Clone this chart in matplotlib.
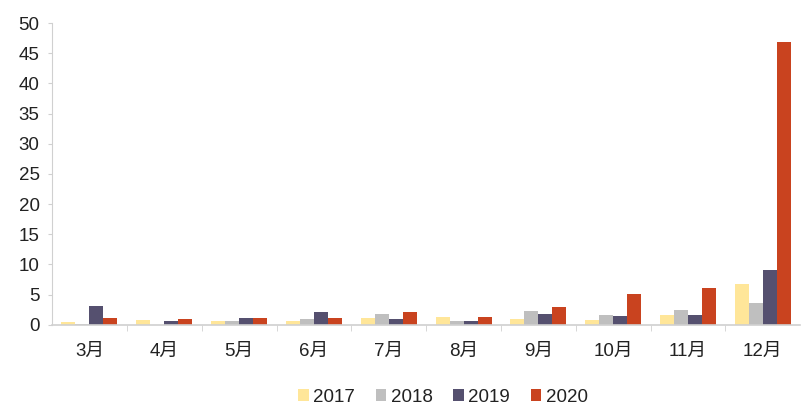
import matplotlib
matplotlib.use("Agg")
import matplotlib.pyplot as plt
import numpy as np

plt.rcParams['font.family'] = ['Liberation Sans', 'Noto Sans CJK SC', 'DejaVu Sans']

months = ['3月', '4月', '5月', '6月', '7月', '8月', '9月', '10月', '11月', '12月']
s2017 = [0.4, 0.8, 0.55, 0.55, 1.15, 1.25, 1.0, 0.8, 1.7, 6.8]
s2018 = [0.2, 0.0, 0.7, 0.95, 1.8, 0.6, 2.3, 1.7, 2.5, 3.6]
s2019 = [3.1, 0.55, 1.15, 2.05, 0.95, 0.6, 1.8, 1.45, 1.7, 9.1]
s2020 = [1.2, 1.0, 1.15, 1.15, 2.05, 1.25, 3.0, 5.1, 6.1, 46.9]
series = [('2017', s2017, '#FFE699'), ('2018', s2018, '#BFBFBF'),
          ('2019', s2019, '#55506F'), ('2020', s2020, '#C9431F')]

fig = plt.figure(figsize=(8.01, 4.05), dpi=100)
ax = fig.add_axes([0.065, 0.198, 0.934, 0.745])
x = np.arange(len(months))
w = 0.187
for i, (name, vals, col) in enumerate(series):
    ax.bar(x + (i - 1.5) * w, vals, width=w, color=col, label=name)

ax.set_xlim(-0.5, len(months) - 0.5)
ax.set_ylim(0, 50)
ax.set_yticks(np.arange(0, 51, 5))
ax.set_xticks(x)
ax.set_xticklabels(months)
ax.set_xticks(np.arange(0.5, len(months) - 0.5, 1), minor=True)
ax.tick_params(axis='x', which='major', length=0, pad=13, labelsize=13.5, labelcolor='#222222')
ax.tick_params(axis='x', which='minor', length=4, color='#D0D0D0', direction='out')
ax.tick_params(axis='y', length=3, color='#D0D0D0', labelsize=13.5, pad=6, labelcolor='#222222')
for s in ['top', 'right']:
    ax.spines[s].set_visible(False)
for s in ['left', 'bottom']:
    ax.spines[s].set_color('#D0D0D0')
ax.spines['bottom'].set_linewidth(1.2)

leg = fig.legend(loc='lower center', bbox_to_anchor=(0.553, -0.025), ncol=4, frameon=False,
                 fontsize=13.5, handlelength=0.55, handleheight=0.55, handletextpad=0.25,
                 columnspacing=1.1, labelcolor='#222222', borderpad=0.0)
fig.savefig('out.png', dpi=100)
